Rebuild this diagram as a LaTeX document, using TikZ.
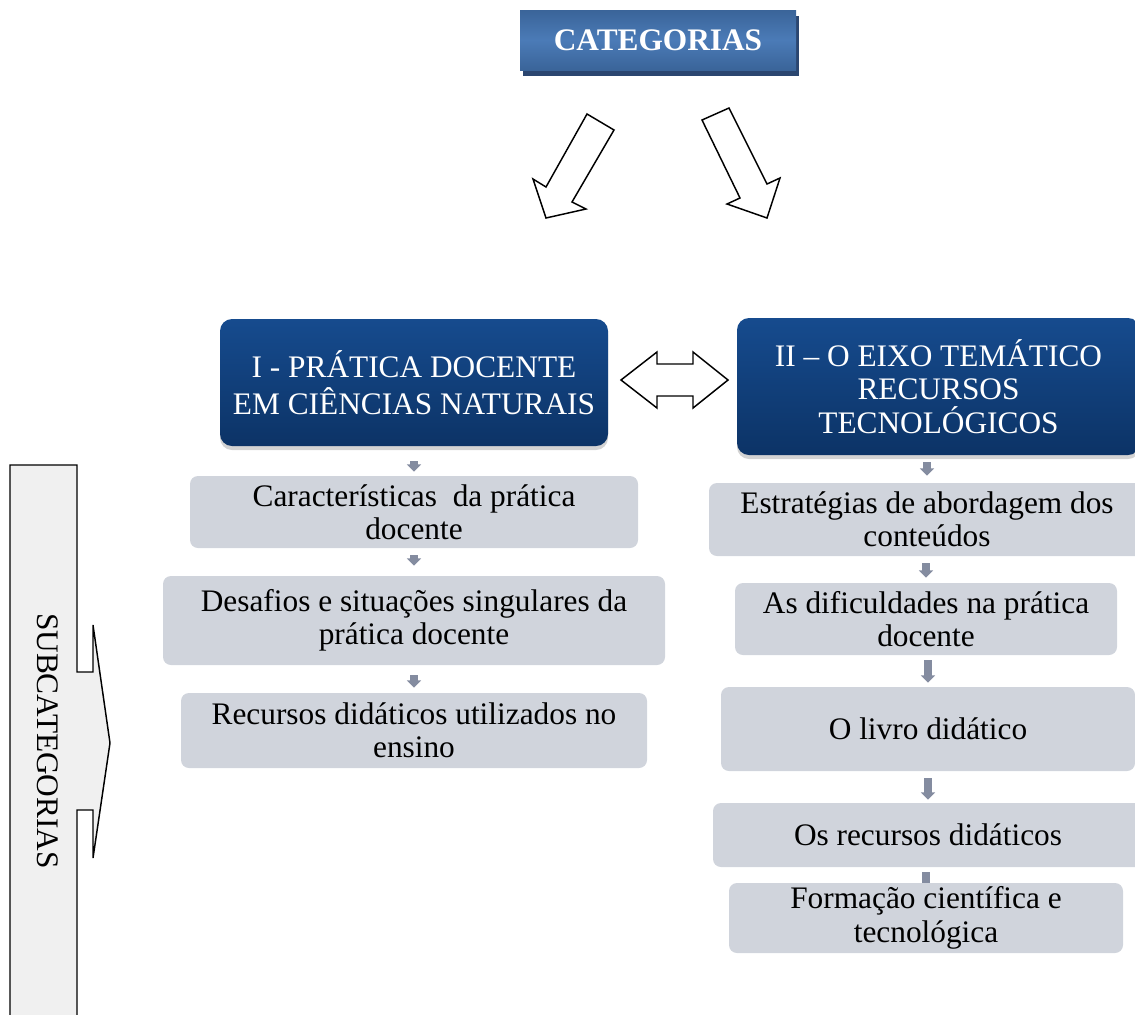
\documentclass[tikz,border=0pt]{standalone}
\usepackage{fontspec}
\setmainfont{Liberation Serif}
\usetikzlibrary{calc,shadows,backgrounds,arrows.meta}

\definecolor{catmid}{HTML}{4B7BB7}
\definecolor{catedge}{HTML}{3A6499}
\definecolor{catshadow}{HTML}{2B4670}
\definecolor{topictop}{HTML}{164B8E}
\definecolor{topicbot}{HTML}{0C3366}
\definecolor{subfill}{HTML}{D0D4DC}
\definecolor{connc}{HTML}{848CA0}
\definecolor{sidefill}{HTML}{F0F0F0}

\tikzset{
  catbox/.style={minimum width=207pt, minimum height=45pt, text=white,
    top color=catedge, bottom color=catedge, middle color=catmid,
    font=\bfseries\fontsize{23.5}{26}\selectfont,
    general shadow={fill=catshadow, shadow xshift=2pt, shadow yshift=-4.5pt}},
  topicbox/.style={rounded corners=9pt, top color=topictop, bottom color=topicbot,
    text=white, align=center,
    drop shadow={opacity=0.35, shadow xshift=0pt, shadow yshift=-3pt}},
  subbox/.style={rounded corners=6pt, fill=subfill, align=center, inner sep=0pt,
    font=\fontsize{23.5}{25}\selectfont},
  conn/.style={line width=5.5pt, draw=connc, -{Triangle[width=10.5pt,length=5.5pt]}},
  hollow/.style={draw=black, line width=1.1pt, fill=white, line join=miter},
}

\begin{document}
\begin{tikzpicture}[x=0.75pt,y=-0.75pt]
  \useasboundingbox (0,0) rectangle (1135,1014);

  % title and the two hollow arrows
  \node[catbox] (cat) at (658,40) {CATEGORIAS};
  \draw[hollow] (587,114) -- (614,130) -- (572,202) -- (586,209) -- (546,218)
    -- (533,179) -- (546,187) -- cycle;
  \draw[hollow] (702,120) -- (729,108) -- (767,184) -- (780,178) -- (767,218)
    -- (727,204) -- (740,198) -- cycle;

  % categories
  \node[topicbox, minimum width=291pt, minimum height=95.25pt,
    font=\fontsize{23.5}{28}\selectfont] (prat) at (414,382.5)
    {I - PRÁTICA DOCENTE\\EM CIÊNCIAS NATURAIS};
  \node[topicbox, minimum width=302.25pt, minimum height=102.75pt,
    font=\fontsize{23.5}{25}\selectfont] (eixo) at (938.5,386.5)
    {II – O EIXO TEMÁTICO\\RECURSOS\\TECNOLÓGICOS};
  \draw[hollow] (621,380) -- (657,352) -- (657,364) -- (693,364) -- (693,352)
    -- (728,380) -- (693,408) -- (693,396) -- (657,396) -- (657,408) -- cycle;

  % subcategories, left
  \node[subbox, minimum width=336pt, minimum height=54pt] (l1) at (414,512)
    {Características\ \ da prática\\docente};
  \node[subbox, minimum width=376.5pt, minimum height=66.75pt] (l2) at (414,620.5)
    {Desafios e situações singulares da\\prática docente};
  \node[subbox, minimum width=349.5pt, minimum height=56.25pt] (l3) at (414,730.5)
    {Recursos didáticos utilizados no\\ensino};

  % subcategories, right
  \node[subbox, minimum width=327pt, minimum height=54.75pt] (r1) at (927,519.5)
    {Estratégias de abordagem dos\\conteúdos};
  \node[subbox, minimum width=286.5pt, minimum height=54pt] (r2) at (926,619)
    {As dificuldades na prática\\docente};
  \node[subbox, minimum width=310.5pt, minimum height=63pt] (r3) at (928,729)
    {O livro didático};
  \node[subbox, minimum width=322.5pt, minimum height=48pt] (r4) at (928,835)
    {Os recursos didáticos};
  \node[subbox, minimum width=295.5pt, minimum height=52.5pt] (r5) at (926,918)
    {Formação científica e\\tecnológica};

  \begin{scope}[on background layer]
    \draw[conn, shorten <=11.25pt, shorten >=3pt] (prat.south -| l1.north) -- (l1.north);
    \draw[conn, shorten <=5.25pt, shorten >=7.5pt] (l1.south) -- (l2.north);
    \draw[conn, shorten <=7.5pt, shorten >=3.75pt] (l2.south) -- (l3.north);
    \draw[conn, shorten <=5.25pt, shorten >=5.25pt] (eixo.south -| r1.north) -- (r1.north);
    \draw[conn, shorten <=5.25pt, shorten >=3.75pt] (r1.south -| r2.north) -- (r2.north);
    \draw[conn, shorten <=3.75pt, shorten >=3pt] (r2.south -| r3.north) -- (r3.north);
    \draw[conn, shorten <=5.25pt, shorten >=2.25pt] (r3.south) -- (r4.north);
    \draw[conn, shorten <=3.75pt, shorten >=-6pt] (r4.south -| r5.north) -- (r5.north);
  \end{scope}

  % side label
  \draw[draw=black, line width=1.1pt, fill=sidefill] (10,1030) -- (10,465) -- (77,465)
    -- (77,672) -- (93,672) -- (93,625) -- (110,743) -- (93,858) -- (93,810)
    -- (77,810) -- (77,1030);
  \node[rotate=-90, font=\fontsize{23.5}{25}\selectfont] (sub) at (48,741) {SUBCATEGORIAS};
\end{tikzpicture}
\end{document}
